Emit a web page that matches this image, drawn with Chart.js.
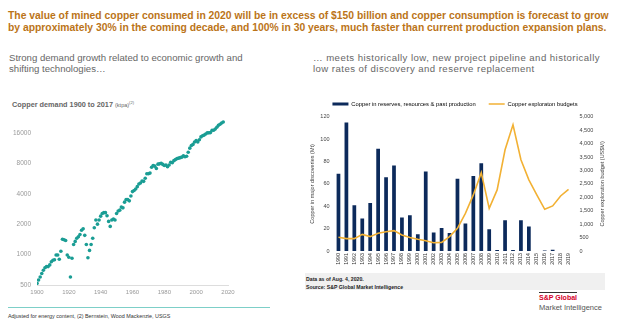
<!DOCTYPE html>
<html>
<head>
<meta charset="utf-8">
<script src="https://cdn.jsdelivr.net/npm/chart.js@4.4.1/dist/chart.umd.min.js"></script>
<style>
  body { margin: 0; background: #fff; font-family: "Liberation Sans", Arial, sans-serif; }
  #page { position: relative; width: 624px; height: 325px; overflow: hidden; }
  .abs { position: absolute; white-space: nowrap; }
  .headline { left: 8px; top: 10px; color: #bb7418; font-weight: bold; font-size: 10.35px; line-height: 11.7px; }
  .sub { top: 52px; color: #666; font-size: 9.6px; line-height: 11px; }
  .demand-title { left: 12px; top: 100px; color: #666; font-weight: bold; font-size: 7.3px; }
  .demand-title small { font-weight: normal; font-size: 5.5px; }
  .demand-title sup { font-weight: normal; font-size: 4px; }
  .teal-rule { left: 8px; top: 307px; width: 262px; height: 0; border-top: 1.5px solid #7dcfc8; }
  .foot { left: 8px; top: 312.5px; color: #333; font-size: 5.4px; }
  .src-box { left: 305px; top: 273px; width: 300px; height: 17px; background: #f0f0f0; }
  .src { left: 306px; color: #222; font-weight: bold; font-size: 5.2px; }
  .logo-rule { left: 539px; top: 292px; width: 38px; height: 0; border-top: 1px solid #333; }
  .logo-1 { left: 539px; top: 293.5px; color: #d6002a; font-weight: bold; font-size: 7px; }
  .logo-2 { left: 539px; top: 302.5px; color: #555; font-size: 7.5px; }
</style>
</head>
<body>
<div id="page">
  <div class="abs headline">The value of mined copper consumed in 2020 will be in excess of $150 billion and copper consumption is forecast to grow<br>by approximately 30% in the coming decade, and 100% in 30 years, much faster than current production expansion plans.</div>
  <div class="abs sub" style="left:9px">Strong demand growth related to economic growth and<br>shifting technologies…</div>
  <div class="abs sub" style="left:313px;letter-spacing:0.45px">… meets historically low, new project pipeline and historically<br>low rates of discovery and reserve replacement</div>

  <div class="abs demand-title">Copper demand 1900 to 2017 <small>(ktpa)</small><sup>(2)</sup></div>
  <div class="abs" style="left:0;top:110px;width:240px;height:190px"><canvas id="chartDemanda"></canvas></div>
  <div class="abs teal-rule"></div>
  <div class="abs foot">Adjusted for energy content, (2) Bernstein, Wood Mackenzie, USGS</div>

  <div class="abs src-box"></div>
  <div class="abs src" style="top:276px">Data as of Aug. 4, 2020.</div>
  <div class="abs src" style="top:283.5px">Source: S&amp;P Global Market Intelligence</div>
  <div class="abs" style="left:295px;top:88px;width:320px;height:189px"><canvas id="chartDescubrimientos"></canvas></div>

  <div class="abs logo-rule"></div>
  <div class="abs logo-1">S&amp;P Global</div>
  <div class="abs logo-2">Market Intelligence</div>
</div>

<script>
// copper demand, ktpa, one value per year from 1900
const demandKt = [
  520, 560, 600, 650, 700, 740, 760, 760, 790, 850,
  880, 890, 990, 990, 900, 1080, 1420, 1400, 1380, 990,
  940, 600, 920, 1260, 1350, 1450, 1500, 1580, 1740, 1800,
  1550, 1260, 930, 1100, 1260, 1450, 1840, 2200, 2000, 2200,
  2400, 2550, 2600, 2600, 2420, 2130, 1900, 2200, 2250, 2200,
  2550, 2700, 2750, 2950, 2900, 3300, 3500, 3500, 3400, 3800,
  4200, 4300, 4450, 4700, 5000, 5100, 5350, 5300, 5700, 6300,
  6300, 6400, 7300, 7600, 7500, 7100, 7850, 7900, 8000, 7800,
  7600, 7700, 7400, 7700, 8200, 8100, 8500, 8700, 8900, 9000,
  9100, 9200, 9500, 9300, 9400, 10300, 11300, 12000, 12300, 13000,
  13400, 13000, 13700, 14600, 15000, 15200, 15600, 16000, 16000, 16100,
  17000, 17000, 17500, 18200, 19000, 19500, 20000, 20500
];
const demandYears = demandKt.map((_, i) => 1900 + i);
const demandTicks = [500, 1000, 2000, 4000, 8000, 16000];

// discoveries vs exploration budgets
const discYears = ['1990', '1991', '1992', '1993', '1994', '1995', '1996', '1997', '1998', '1999',
  '2000', '2001', '2002', '2003', '2004', '2005', '2006', '2007', '2008', '2009',
  '2010', '2011', '2012', '2013', '2014', '2015', '2016', '2017', '2018', '2019'];
const discoveriesMt = [69, 115, 41, 29, 43, 91.5, 66, 76.5, 30, 32,
  15, 71, 16.5, 20.5, 16, 64.5, 24.5, 67, 78.5, 19.5,
  1, 27.5, 0.8, 27.5, 22, 0, 0.5, 1.2, 0, 0];
const budgetsUsdM = [510, 460, 460, 620, 535, 660, 720, 760, 600, 500,
  435, 385, 310, 320, 535, 845, 1400, 2090, 2920, 1590,
  2275, 3770, 4700, 3400, 2650, 2090, 1555, 1680, 2050, 2300];
const leftAxisTitle = 'Copper in major discoveries (Mt)';
const rightAxisTitle = 'Copper exploration budget (US$M)';

const FONT = '"Liberation Sans", Arial, sans-serif';
Chart.defaults.font.family = FONT;
Chart.defaults.animation = false;

new Chart(document.getElementById('chartDemanda'), {
  type: 'scatter',
  data: {
    datasets: [{
      data: demandYears.map((y, i) => ({ x: y, y: demandKt[i] })),
      backgroundColor: '#1a9d94',
      borderWidth: 0,
      pointRadius: 1.8
    }]
  },
  options: {
    responsive: true,
    maintainAspectRatio: false,
    layout: { padding: { top: 3, right: 12, left: 0, bottom: 0 } },
    plugins: { legend: { display: false }, tooltip: { enabled: false } },
    scales: {
      x: {
        type: 'linear', min: 1900, max: 2020,
        ticks: { stepSize: 20, color: '#999', font: { size: 6 }, padding: 4, callback: v => String(v) },
        grid: { display: false, drawTicks: false },
        border: { color: '#ddd', width: 1 },
        afterFit: s => { s.height = 15; }
      },
      y: {
        type: 'logarithmic', min: 500, max: 21500,
        afterBuildTicks: s => { s.ticks = demandTicks.map(v => ({ value: v })); },
        ticks: { color: '#999', font: { size: 6.5 }, padding: 6, callback: v => String(v) },
        grid: { display: false, drawTicks: false },
        border: { display: false },
        afterFit: s => { s.width = 37; }
      }
    }
  }
});

const rightTitlePlugin = {
  id: 'rightTitle',
  afterDraw(chart) {
    const s = chart.scales.y1;
    const ctx = chart.ctx;
    ctx.save();
    ctx.translate(s.right - 13, (s.top + s.bottom) / 2);
    ctx.rotate(-Math.PI / 2);
    ctx.font = '5.5px ' + FONT;
    ctx.fillStyle = '#444';
    ctx.textAlign = 'center';
    ctx.textBaseline = 'middle';
    ctx.fillText(rightAxisTitle, 0, 0);
    ctx.restore();
  }
};

new Chart(document.getElementById('chartDescubrimientos'), {
  data: {
    labels: discYears,
    datasets: [{
      type: 'bar',
      label: 'Copper in reserves, resources & past production',
      data: discoveriesMt,
      backgroundColor: '#0c2a5b',
      barPercentage: 0.47,
      categoryPercentage: 1,
      yAxisID: 'y',
      order: 2
    }, {
      type: 'line',
      label: 'Copper exploraton budgets',
      data: budgetsUsdM,
      borderColor: '#f2b134',
      borderWidth: 1.6,
      pointRadius: 0,
      tension: 0,
      yAxisID: 'y1',
      order: 1
    }]
  },
  options: {
    responsive: true,
    maintainAspectRatio: false,
    layout: { padding: 0 },
    plugins: {
      tooltip: { enabled: false },
      legend: {
        position: 'top',
        labels: {
          usePointStyle: true,
          pointStyleWidth: 16,
          padding: 13,
          color: '#333',
          font: { size: 5.8 },
          generateLabels: () => [
            { text: 'Copper in reserves, resources & past production', pointStyle: 'line', strokeStyle: '#0c2a5b', fillStyle: '#0c2a5b', lineWidth: 3, datasetIndex: 0 },
            { text: 'Copper exploraton budgets', pointStyle: 'line', strokeStyle: '#f2b134', fillStyle: '#f2b134', lineWidth: 1.5, datasetIndex: 1 }
          ]
        }
      }
    },
    scales: {
      x: {
        ticks: { color: '#333', font: { size: 5.3 }, maxRotation: 90, minRotation: 90, autoSkip: false, padding: 2 },
        grid: { display: false, drawTicks: false },
        border: { display: false },
        afterFit: s => { s.height = 26; }
      },
      y: {
        position: 'left', min: 0, max: 120,
        ticks: { stepSize: 20, color: '#444', font: { size: 5.5 }, padding: 5 },
        title: { display: true, text: leftAxisTitle, color: '#444', font: { size: 5.5 }, padding: { top: 14, bottom: 0 } },
        grid: { display: false, drawTicks: false },
        border: { display: false },
        afterFit: s => { s.width = 39.5; }
      },
      y1: {
        position: 'right', min: 0, max: 5000,
        ticks: { stepSize: 500, color: '#444', font: { size: 5.5 }, padding: 7 },
        grid: { display: false, drawTicks: false },
        border: { display: false },
        afterFit: s => { s.width = 42.5; }
      }
    }
  },
  plugins: [rightTitlePlugin]
});
</script>
</body>
</html>
